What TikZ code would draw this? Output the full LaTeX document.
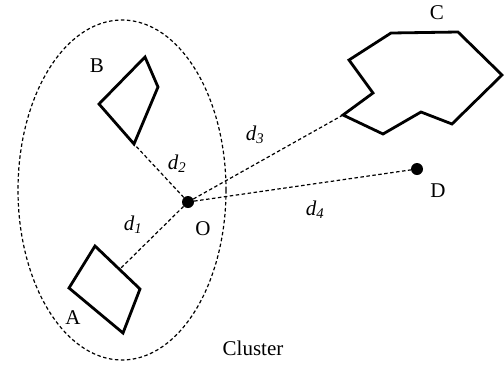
\documentclass[tikz,border=0pt]{standalone}
\usepackage{fontspec}
\setmainfont{Liberation Serif}
\begin{document}
\begin{tikzpicture}[x=1pt,y=-1pt,
  region/.style={line width=2.8pt,line join=miter},
  link/.style={line width=1.2pt,dash pattern=on 3.5pt off 2.5pt},
  hull/.style={line width=1.2pt,dash pattern=on 3.5pt off 2.5pt},
  dot/.style={circle,fill=black,inner sep=0pt,minimum size=12pt},
  lbl/.style={font=\fontsize{21}{23}\selectfont,inner sep=0pt},
  dist/.style={font=\fontsize{21}{23}\selectfont\itshape,inner sep=0pt}]
\useasboundingbox (0,0) rectangle (504,365);
% cluster outline
\draw[hull] (122,190) ellipse [x radius=104, y radius=170];
% regions
\draw[region] (145,57) -- (158,87) -- (134,144) -- (99,104) -- cycle;
\draw[region] (95,246) -- (140,289) -- (123,333) -- (69,288) -- cycle;
\draw[region] (391,33) -- (458,32) -- (502,75) -- (452,124) -- (421,112)
  -- (383,134) -- (343,115) -- (373,93) -- (349,60) -- cycle;
% points and anchors
\node[dot] (O) at (188,202) {};
\node[dot] (D) at (417,169) {};
\coordinate (b) at (134,144);
\coordinate (a) at (121,268);
\coordinate (c) at (343,115);
% distances
\draw[link] (O) -- (b);
\draw[link] (O) -- (a);
\draw[link] (O) -- (c);
\draw[link] (O) -- (D);
% labels
\node[lbl] (lB) at (97,66) {B};
\node[lbl] (lA) at (73,318) {A};
\node[lbl] (lC) at (437,13) {C};
\node[lbl] (lD) at (438,191) {D};
\node[lbl] (lO) at (203,229) {O};
\node[lbl] (lCl) at (253,348) {Cluster};
\node[dist] (d1) at (133,225) {d\textsubscript{1}};
\node[dist] (d2) at (177,164) {d\textsubscript{2}};
\node[dist] (d3) at (255,135) {d\textsubscript{3}};
\node[dist] (d4) at (315,210) {d\textsubscript{4}};
\end{tikzpicture}
\end{document}
